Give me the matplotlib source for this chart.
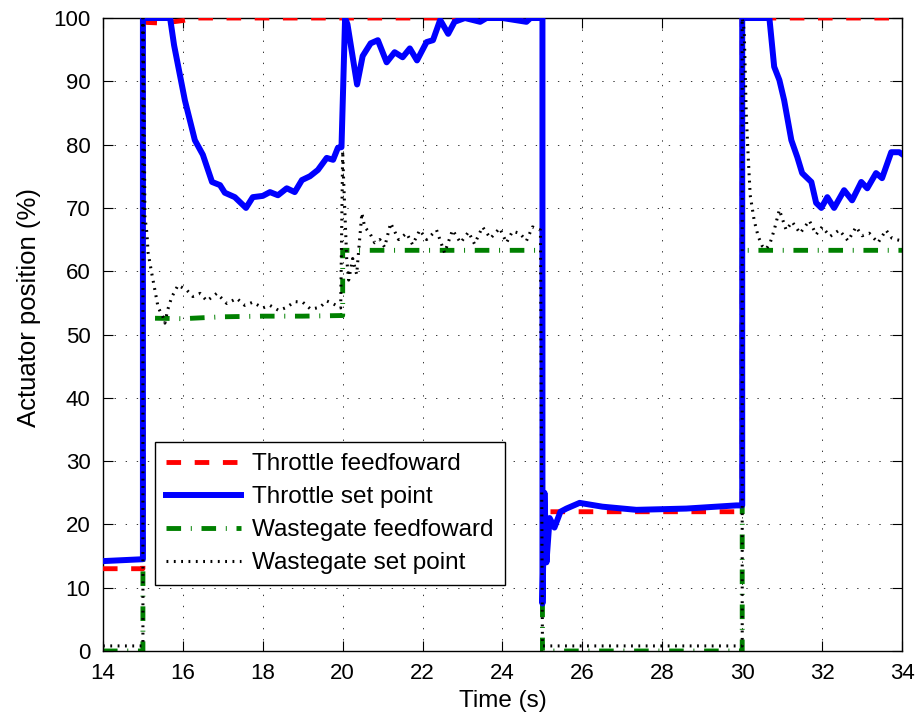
import numpy as np
import matplotlib.pyplot as plt

plt.rcParams['font.family'] = ['Liberation Sans', 'DejaVu Sans']
plt.rcParams['font.size'] = 16

# throttle feedforward (%)
thr_ff_t = [14, 15, 15, 15.1, 15.5, 16.0, 16.3, 25, 25, 30, 30, 34]
thr_ff_v = [13, 13, 100, 99.3, 99.2, 99.6, 100, 100, 22, 22, 100, 100]

# throttle set point (%)
thr_sp_t = [14, 15.0, 15.0, 15.68, 15.78, 16.05, 16.3, 16.5, 16.73, 16.93, 17.05,
            17.3, 17.58, 17.75, 18.0, 18.18, 18.38, 18.6, 18.8, 18.98, 19.18,
            19.38, 19.6, 19.76, 19.88, 19.97, 20.06, 20.12, 20.36, 20.5, 20.7,
            20.88, 21.1, 21.3, 21.5, 21.68, 21.86, 22.1, 22.26, 22.44, 22.64,
            22.8, 23.06, 23.44, 23.6, 24.0, 24.6, 24.7, 25.0, 25.0, 25.05,
            25.1, 25.18, 25.3, 25.45, 25.6, 25.93, 26.5, 27.35, 28.6, 29.85,
            30.0, 30.0, 30.68, 30.8, 30.93, 31.05, 31.23, 31.38, 31.5, 31.73,
            31.85, 31.98, 32.13, 32.3, 32.55, 32.75, 32.98, 33.13, 33.35, 33.5,
            33.73, 33.93, 34]
thr_sp_v = [14.2, 14.5, 100, 100, 95.7, 87, 80.7, 78.4, 74.1, 73.6, 72.4,
            71.7, 70.0, 71.7, 71.9, 72.5, 72.0, 73.1, 72.5, 74.4, 75.0,
            76.0, 77.9, 77.6, 79.5, 79.6, 100, 99, 89.5, 94, 96,
            96.5, 93, 94.6, 93.8, 95.2, 93.3, 96.2, 96.5, 99.7, 97.5,
            99.4, 100, 99.4, 100, 100, 99.4, 100, 100, 7.5, 25,
            14, 21, 19.5, 22, 22.5, 23.4, 22.8, 22.3, 22.5, 23.0,
            23.0, 100, 100, 92.3, 90.2, 87, 80.7, 78, 75.5, 74.1,
            70.8, 70, 71.7, 70, 72.8, 71.2, 74.1, 73.1, 75.5, 74.7,
            78.8, 78.8, 78.5]

# wastegate feedforward (%)
wg_ff_t = [14, 15, 15, 16, 17, 18, 19, 20, 20, 25, 25, 30, 30, 34]
wg_ff_v = [0, 0, 52.6, 52.5, 52.8, 52.9, 52.9, 53, 63.3, 63.3, 0, 0, 63.3, 63.3]

# wastegate set point (%)
wg_sp_t = [14, 15, 15, 15.03, 15.05, 15.1, 15.13, 15.22, 15.3, 15.38, 15.5, 15.55,
           15.62, 15.72, 15.88, 16.1, 16.25, 16.43, 16.6, 16.85, 17.1, 17.35,
           17.55, 17.75, 18.0, 18.18, 18.4, 18.6, 18.8, 19.0, 19.2, 19.43,
           19.6, 19.75, 19.95, 20.0, 20.02, 20.1, 20.15, 20.25, 20.35, 20.48,
           20.55, 20.68, 20.8, 20.93, 21.05, 21.2, 21.4, 21.6, 21.75, 21.93,
           22.1, 22.35, 22.55, 22.75, 22.95, 23.15, 23.3, 23.5, 23.7, 23.93,
           24.1, 24.25, 24.43, 24.6, 24.75, 24.95, 25.0, 30.0, 30.0, 30.05,
           30.1, 30.15, 30.2, 30.3, 30.4, 30.5, 30.6, 30.7, 30.8, 30.93,
           31.1, 31.25, 31.45, 31.68, 31.85, 32.0, 32.2, 32.43, 32.65, 32.85,
           33.0, 33.18, 33.4, 33.6, 33.75, 33.85, 34]
wg_sp_v = [0.8, 0.8, 100, 85, 68.6, 66, 62.9, 59.7, 57, 54.3, 52.8, 51.8,
           53.9, 55.9, 57.8, 57, 56, 56.5, 55.3, 56.5, 54.9, 55.7,
           54.6, 55.1, 54.2, 54.6, 53.8, 54.3, 55.2, 55.1, 54.0, 54.3,
           55.3, 54.9, 54.2, 79, 75, 62, 58.6, 62, 59.5, 69.2,
           67, 66, 64.5, 65, 63.8, 67.6, 65, 66, 64.2, 66.5,
           65, 66.5, 62.9, 66.5, 64.5, 66.2, 64.3, 67, 65.2, 66.8,
           64.5, 66.3, 66, 64.8, 67, 66.5, 0.8, 0.8, 100, 98,
           85, 78, 72, 68, 65.5, 64, 63.5, 64.5, 66.5, 69.7,
           66.5, 67.8, 66, 68, 65.8, 67, 65.5, 66.5, 64.8, 67,
           65.6, 66, 64.5, 66.5, 65.2, 65, 64.8]

fig = plt.figure(figsize=(9.21, 7.21), dpi=100)
ax = fig.add_axes([0.1118, 0.0971, 0.8676, 0.8779])

ax.plot(thr_ff_t, thr_ff_v, color='red', lw=3.5, dashes=(3, 2.8),
        label='Throttle feedfoward', zorder=3)
ax.plot(thr_sp_t, thr_sp_v, color='blue', lw=4.3, label='Throttle set point', zorder=4)
ax.plot(wg_ff_t, wg_ff_v, color='green', lw=3.5, dashes=(3, 2, 0.2, 2),
        label='Wastegate feedfoward', zorder=2)
ax.plot(wg_sp_t, wg_sp_v, color='black', lw=2.2, dashes=(0.6, 1.8),
        label='Wastegate set point', zorder=5)

ax.set_xlim(14, 34)
ax.set_ylim(0, 100)
ax.set_xticks(np.arange(14, 35, 2))
ax.set_yticks(np.arange(0, 101, 10))
ax.grid(True, color='#333333', linestyle=(0, (1.4, 10)), linewidth=0.7)
ax.tick_params(direction='in', top=True, right=True, length=7, labelsize=16, pad=9)
for s in ax.spines.values():
    s.set_linewidth(1.0)
ax.set_xlabel('Time (s)', fontsize=17.5, labelpad=4)
ax.set_ylabel('Actuator position (%)', fontsize=18.5)
ax.yaxis.set_label_coords(-0.077, 0.542)

leg = ax.legend(loc='lower left', bbox_to_anchor=(0.065, 0.104), borderaxespad=0,
                fontsize=17.5, handlelength=3.1, handletextpad=0.45, fancybox=False,
                framealpha=1, edgecolor='black', labelspacing=0.45, borderpad=0.45)
leg.get_frame().set_linewidth(1.0)

fig.savefig('out.png', dpi=100)
